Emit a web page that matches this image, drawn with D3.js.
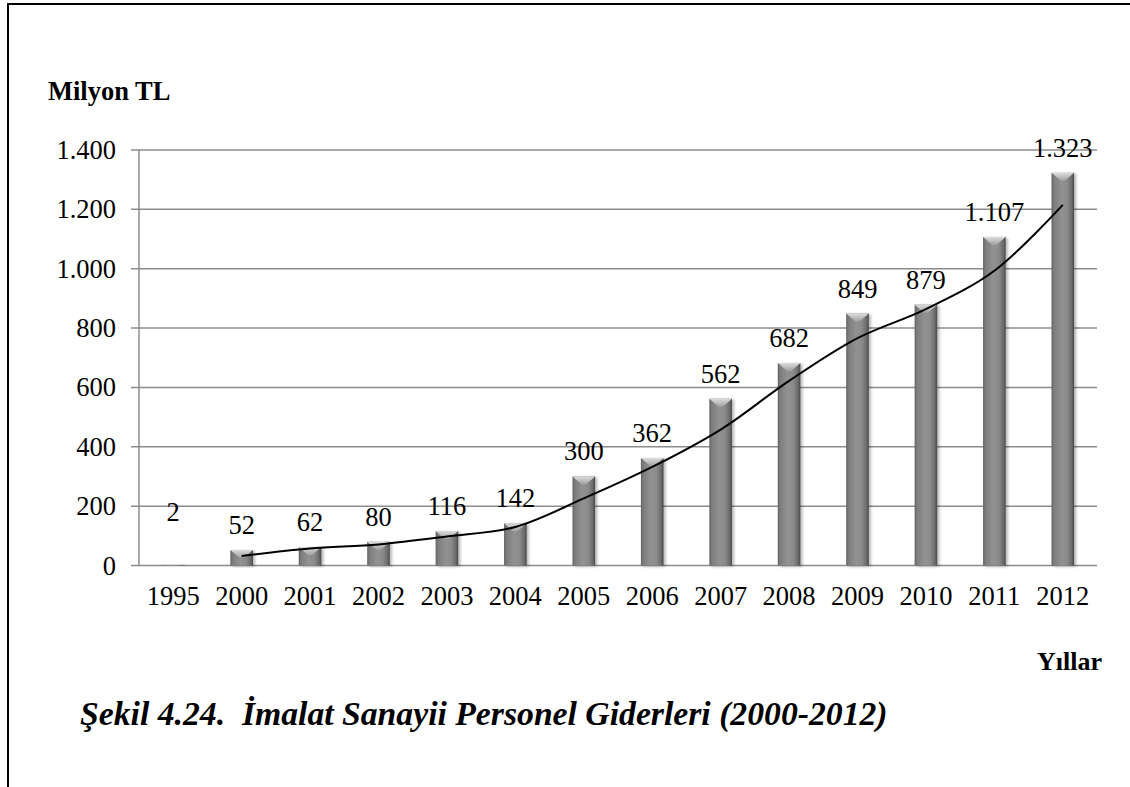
<!DOCTYPE html>
<html>
<head>
<meta charset="utf-8">
<script src="https://cdn.jsdelivr.net/npm/d3@7/dist/d3.min.js"></script>
<style>
  html, body { margin: 0; padding: 0; background: #fff; }
  svg { display: block; }
  text { font-family: "Liberation Serif", "Times New Roman", serif; fill: #000; }
</style>
</head>
<body>
<svg id="chart" width="1130" height="787"></svg>
<script>
// ---- data ----
const years = ["1995","2000","2001","2002","2003","2004","2005","2006","2007","2008","2009","2010","2011","2012"];
const values = [2, 52, 62, 80, 116, 142, 300, 362, 562, 682, 849, 879, 1107, 1323];
const trendValues = [null, 32, 57, 71, 98, 130, 226, 332, 458, 622, 766, 864, 993, 1215];
const yTicks = [0, 200, 400, 600, 800, 1000, 1200, 1400];
const yAxisTitle = "Milyon TL";
const xAxisTitle = "Yıllar";
const caption = "Şekil 4.24.  İmalat Sanayii Personel Giderleri (2000-2012)";

const fmt = v => String(v).replace(/\B(?=(\d{3})+(?!\d))/g, ".");

const svg = d3.select("#chart");
const W = 1130, H = 787;
const plot = { left: 139, right: 1097, top: 150, bottom: 565.5 };
const numFont = 26.5;

// frame (top and left edges visible)
svg.append("line").attr("x1", 8).attr("x2", W).attr("y1", 4).attr("y2", 4)
  .attr("stroke", "#000").attr("stroke-width", 2);
svg.append("line").attr("x1", 8).attr("x2", 8).attr("y1", 3).attr("y2", H)
  .attr("stroke", "#000").attr("stroke-width", 2);

const x = d3.scaleBand().domain(years).range([plot.left, plot.right]).padding(0);
const y = d3.scaleLinear().domain([0, 1400]).range([plot.bottom, plot.top]);

// defs: gradients
const defs = svg.append("defs");
const g1 = defs.append("linearGradient").attr("id", "barGrad").attr("x1", 0).attr("x2", 1).attr("y1", 0).attr("y2", 0);
[[0, "#646464"], [0.12, "#7e7e7e"], [0.45, "#929292"], [0.7, "#8a8a8a"], [0.9, "#6a6a6a"], [1, "#474747"]]
  .forEach(([o, c]) => g1.append("stop").attr("offset", o).attr("stop-color", c));
const g2 = defs.append("linearGradient").attr("id", "capGrad").attr("x1", 0).attr("x2", 0).attr("y1", 0).attr("y2", 1);
[[0, "#dcdcdc"], [1, "#a0a0a0"]].forEach(([o, c]) => g2.append("stop").attr("offset", o).attr("stop-color", c));
const sh = defs.append("filter").attr("id", "shadow").attr("x", "-30%").attr("y", "-10%").attr("width", "160%").attr("height", "120%");
sh.append("feGaussianBlur").attr("in", "SourceAlpha").attr("stdDeviation", 1.5).attr("result", "b");
sh.append("feOffset").attr("in", "b").attr("dx", 2).attr("dy", 1).attr("result", "o");
sh.append("feComponentTransfer").attr("in", "o").attr("result", "oa")
  .append("feFuncA").attr("type", "linear").attr("slope", 0.3);
const m = sh.append("feMerge");
m.append("feMergeNode").attr("in", "oa");
m.append("feMergeNode").attr("in", "SourceGraphic");

// gridlines
svg.append("g").selectAll("line").data(yTicks).join("line")
  .attr("x1", plot.left - 8).attr("x2", plot.right)
  .attr("y1", d => y(d)).attr("y2", d => y(d))
  .attr("stroke", "#8c8c8c").attr("stroke-width", 1.5);
// y axis line
svg.append("line").attr("x1", plot.left).attr("x2", plot.left)
  .attr("y1", plot.top).attr("y2", plot.bottom)
  .attr("stroke", "#8c8c8c").attr("stroke-width", 1.5);

// y tick labels
svg.append("g").selectAll("text").data(yTicks).join("text")
  .attr("x", plot.left - 23).attr("y", d => y(d) + 9)
  .attr("text-anchor", "end").attr("font-size", numFont)
  .text(d => fmt(d));

// bars
const barW = 22.6;
const barData = years.map((yr, i) => ({ yr, v: values[i] }));
const bars = svg.append("g").selectAll("g").data(barData).join("g")
  .attr("filter", "url(#shadow)");
bars.append("rect")
  .attr("x", d => x(d.yr) + x.bandwidth() / 2 - barW / 2)
  .attr("y", d => y(d.v))
  .attr("width", barW)
  .attr("height", d => plot.bottom - y(d.v))
  .attr("fill", "url(#barGrad)");
bars.filter(d => plot.bottom - y(d.v) > 6).append("path")
  .attr("d", d => {
    const cx = x(d.yr) + x.bandwidth() / 2, t = y(d.v);
    const h = Math.min(8, (plot.bottom - t) / 2);
    return `M${cx - barW / 2},${t} L${cx + barW / 2},${t} L${cx + 2},${t + h} L${cx - 2},${t + h} Z`;
  })
  .attr("fill", "url(#capGrad)");

// trend line
const line = d3.line()
  .defined(d => d.v != null)
  .x(d => x(d.yr) + x.bandwidth() / 2)
  .y(d => y(d.v))
  .curve(d3.curveCatmullRom.alpha(0.5));
svg.append("path")
  .datum(years.map((yr, i) => ({ yr, v: trendValues[i] })))
  .attr("d", line)
  .attr("fill", "none").attr("stroke", "#000").attr("stroke-width", 2);

// value labels (the near-zero 1995 label sits higher, as in the original)
svg.append("g").selectAll("text").data(barData).join("text")
  .attr("x", d => x(d.yr) + x.bandwidth() / 2)
  .attr("y", d => (d.v < 20 ? y(0) - 45 : y(d.v) - 16))
  .attr("text-anchor", "middle").attr("font-size", numFont)
  .text(d => fmt(d.v));

// x tick labels
svg.append("g").selectAll("text").data(years).join("text")
  .attr("x", d => x(d) + x.bandwidth() / 2)
  .attr("y", 605)
  .attr("text-anchor", "middle").attr("font-size", numFont)
  .text(d => d);

// axis titles
svg.append("text").attr("x", 48).attr("y", 100)
  .attr("font-size", 26.5).attr("font-weight", "bold").text(yAxisTitle);
svg.append("text").attr("x", 1102).attr("y", 670).attr("text-anchor", "end")
  .attr("font-size", 26).attr("font-weight", "bold").text(xAxisTitle);

// caption
svg.append("text").attr("x", 80).attr("y", 725)
  .attr("font-size", 33.7).attr("font-weight", "bold").attr("font-style", "italic")
  .attr("xml:space", "preserve").style("white-space", "pre")
  .text(caption);
</script>
</body>
</html>
